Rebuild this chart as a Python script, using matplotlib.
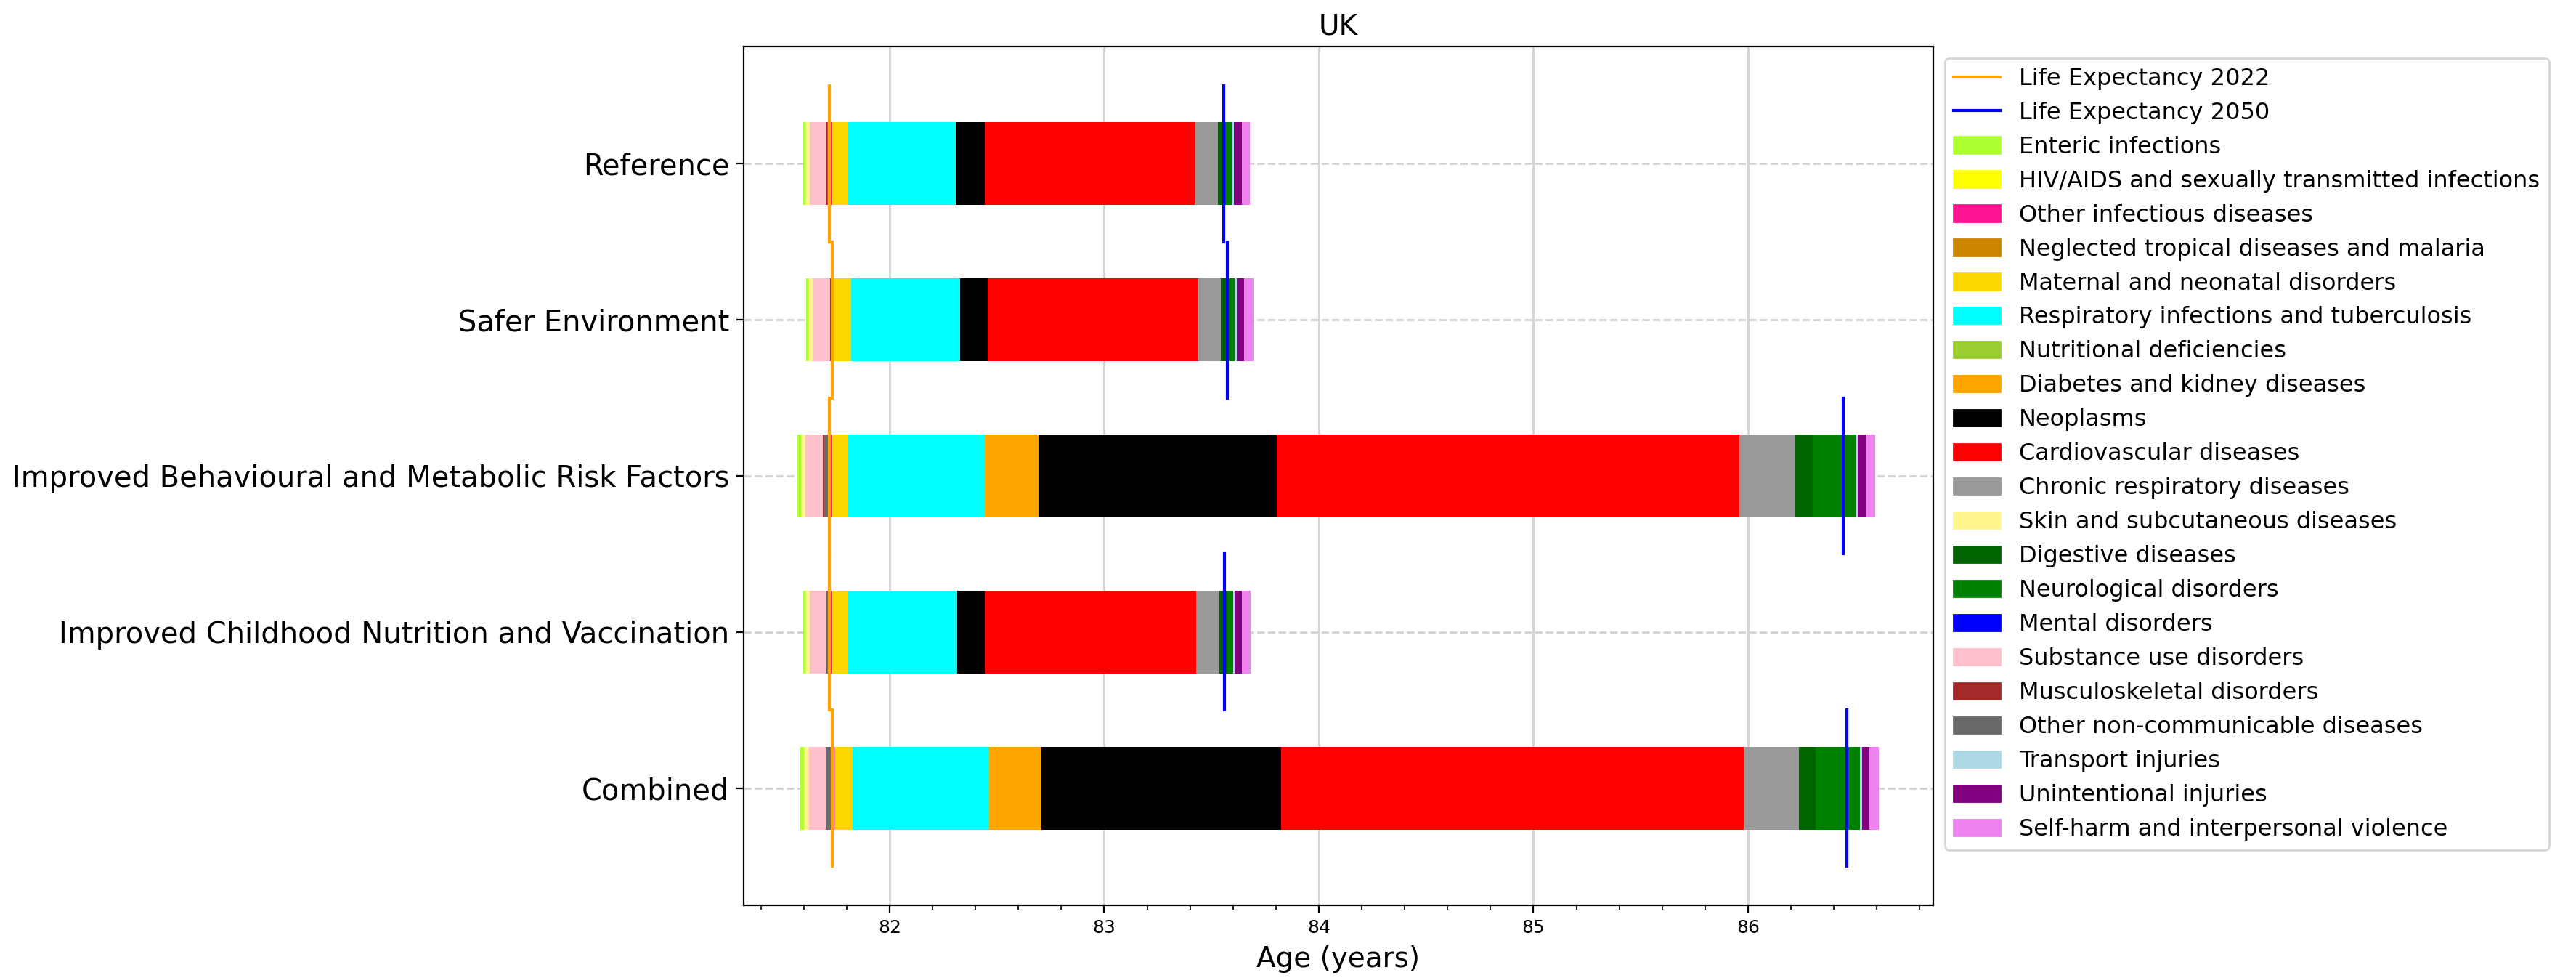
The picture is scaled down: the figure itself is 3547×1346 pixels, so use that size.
import matplotlib
matplotlib.use('Agg')
import matplotlib.pyplot as plt
from matplotlib.lines import Line2D
from matplotlib.patches import Patch
from matplotlib.ticker import AutoMinorLocator

# scenarios, top to bottom
scenarios = ['Reference', 'Safer Environment',
             'Improved Behavioural and Metabolic Risk Factors',
             'Improved Childhood Nutrition and Vaccination', 'Combined']

causes = ['Enteric infections', 'HIV/AIDS and sexually transmitted infections',
          'Other infectious diseases', 'Neglected tropical diseases and malaria',
          'Maternal and neonatal disorders', 'Respiratory infections and tuberculosis',
          'Nutritional deficiencies', 'Diabetes and kidney diseases', 'Neoplasms',
          'Cardiovascular diseases', 'Chronic respiratory diseases',
          'Skin and subcutaneous diseases', 'Digestive diseases',
          'Neurological disorders', 'Mental disorders', 'Substance use disorders',
          'Musculoskeletal disorders', 'Other non-communicable diseases',
          'Transport injuries', 'Unintentional injuries',
          'Self-harm and interpersonal violence']

colors = ['greenyellow', 'yellow', 'deeppink', '#CD8500', 'gold', 'cyan',
          'yellowgreen', 'orange', 'black', 'red', '#999999', '#FFF68F',
          'darkgreen', 'green', 'blue', 'pink', 'brown', 'dimgray',
          'lightblue', 'purple', 'violet']

le_2022 = [81.720, 81.733, 81.720, 81.720, 81.734]

# contribution of each cause (years) to change in life expectancy, 2022 -> 2050
reference = [-0.011, -0.002, 0.008, 0.0, 0.081, 0.500, 0.0, 0.0, 0.133, 0.981,
             0.108, -0.020, 0.037, 0.026, 0.0, -0.075, -0.004, -0.012,
             0.010, 0.036, 0.040]
safer_env = [-0.010, -0.002, 0.008, 0.0, 0.081, 0.505, 0.0, 0.0, 0.131, 0.979,
             0.108, -0.019, 0.031, 0.033, 0.0, -0.079, -0.004, -0.007,
             0.009, 0.035, 0.041]
behav_metab = [-0.014, -0.002, 0.008, 0.0, 0.079, 0.635, 0.0, 0.251, 1.110, 2.157,
               0.261, -0.020, 0.081, 0.203, 0.0, -0.082, -0.004, -0.026,
               0.006, 0.038, 0.044]
child_nutr = [-0.011, -0.002, 0.008, 0.0, 0.078, 0.508, 0.0, 0.0, 0.131, 0.982,
              0.111, -0.020, 0.035, 0.027, 0.0, -0.074, -0.004, -0.013,
              0.006, 0.035, 0.042]
combined = [-0.015, -0.002, 0.008, 0.0, 0.084, 0.634, 0.0, 0.248, 1.117, 2.156,
            0.257, -0.024, 0.078, 0.206, 0.0, -0.077, -0.004, -0.027,
            0.009, 0.035, 0.044]

contribs = [reference, safer_env, behav_metab, child_nutr, combined]

fig = plt.figure(figsize=(3547 / 200, 1346 / 200), dpi=200)
ax = fig.add_axes([0.2887, 0.0743, 0.4617, 0.8782])

bar_h = 0.53
for i, vals in enumerate(contribs):
    neg_total = -sum(v for v in vals if v < 0)
    neg_left = le_2022[i] - neg_total   # losses stacked to the left of 2022 value
    pos_left = le_2022[i]               # gains stacked to the right
    for v, c in zip(vals, colors):
        if v < 0:
            ax.barh(i, -v, left=neg_left, height=bar_h, color=c)
            neg_left += -v
        else:
            ax.barh(i, v, left=pos_left, height=bar_h, color=c)
            pos_left += v

    le_2050 = le_2022[i] + sum(vals)
    ax.plot([le_2022[i], le_2022[i]], [i - 0.5, i + 0.5], color='orange', lw=1.5)
    ax.plot([le_2050, le_2050], [i - 0.5, i + 0.5], color='blue', lw=1.5)

ax.use_sticky_edges = False
ax.autoscale_view()

ax.set_yticks(range(len(scenarios)))
ax.set_yticklabels(scenarios, fontsize=14.4)
ax.invert_yaxis()
ax.tick_params(axis='x', labelsize=9)
ax.xaxis.set_minor_locator(AutoMinorLocator())
ax.set_xlabel('Age (years)', fontsize=14)
ax.set_title('UK', fontsize=14)

ax.set_axisbelow(True)
ax.grid(axis='x', color='lightgray', linestyle='-', lw=1.0)
ax.grid(axis='y', color='lightgray', linestyle='--', lw=1.0)

handles = [Line2D([0], [0], color='orange', lw=1.5, label='Life Expectancy 2022'),
           Line2D([0], [0], color='blue', lw=1.5, label='Life Expectancy 2050')]
handles += [Patch(color=c, label=n) for n, c in zip(causes, colors)]
ax.legend(handles=handles, loc='upper left', bbox_to_anchor=(1, 1), fontsize=11.5)

fig.savefig('out.png', dpi=200)
